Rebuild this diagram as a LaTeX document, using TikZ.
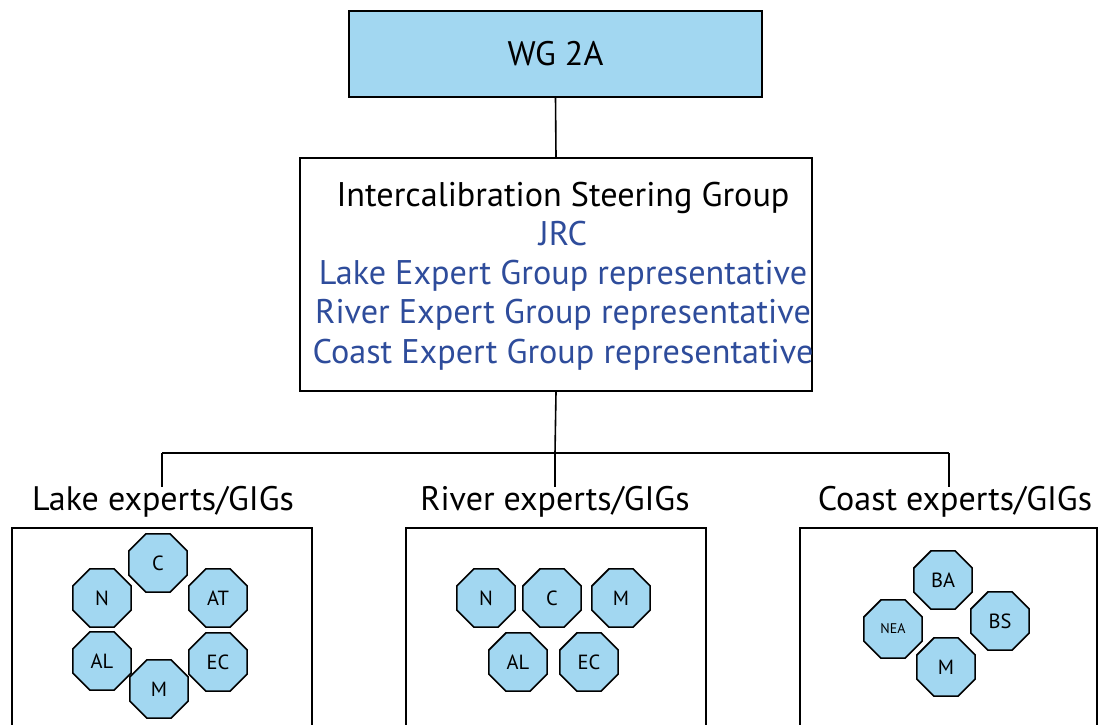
\documentclass[tikz,border=0pt]{standalone}
\usepackage{fontspec}
\setmainfont{PT Sans}
\usetikzlibrary{shapes.geometric}
\definecolor{boxblue}{HTML}{A2D7F1}
\definecolor{txtblue}{HTML}{2E4C9B}
\tikzset{
  frame/.style={draw=black, line width=1.5pt, rectangle, inner sep=0pt},
  oct/.style={regular polygon, regular polygon sides=8, draw=black, line width=1.6pt, fill=boxblue, minimum size=63pt, inner sep=0pt, font=\fontsize{20.5}{22}\selectfont},
  lbl/.style={inner sep=0pt, font=\fontsize{34}{36}\selectfont},
  conn/.style={draw=black, line width=1.6pt}
}
\begin{document}
\begin{tikzpicture}[x=1pt,y=-1pt]
\path[use as bounding box, clip] (0,0) rectangle (1099,724);
% top
\node[frame, fill=boxblue, minimum width=413pt, minimum height=86pt, font=\fontsize{34}{36}\selectfont] (wg) at (555.5,54) {WG 2A};
\node[frame, minimum width=512pt, minimum height=233pt] (isg) at (556,274.5) {};
\node[align=center, inner sep=0pt, font=\fontsize{34.2}{39.2}\selectfont] (isgtxt) at (563,276) {Intercalibration Steering Group\\
\textcolor{txtblue}{JRC}\\
\textcolor{txtblue}{Lake Expert Group representative}\\
\textcolor{txtblue}{River Expert Group representative}\\
\textcolor{txtblue}{Coast Expert Group representative}};
% labels
\node[lbl] (lakelab) at (163,502) {Lake experts/GIGs};
\node[lbl] (riverlab) at (555,502) {River experts/GIGs};
\node[lbl] (coastlab) at (955,502) {Coast experts/GIGs};
% group boxes
\node[frame, minimum width=300pt, minimum height=240pt, anchor=north] (lakebox) at (162,527) {};
\node[frame, minimum width=300pt, minimum height=240pt, anchor=north] (riverbox) at (556,527) {};
\node[frame, minimum width=297pt, minimum height=240pt, anchor=north] (coastbox) at (948.5,527) {};
% connectors
\coordinate (j) at (555,453);
\coordinate (jl) at (162,453);
\coordinate (jc) at (949,453);
\draw[conn] (wg.south) -- (isg.north);
\draw[conn] (isg.south) -- (j);
\draw[conn] (jl) -- (jc);
\draw[conn] (jl) -- (162,487);
\draw[conn] (j) -- (555,487);
\draw[conn] (jc) -- (949,487);
% lake octagons
\node[oct] (lC) at (158,563) {C};
\node[oct] (lN) at (102,598) {N};
\node[oct] (lAT) at (218,598) {AT};
\node[oct] (lAL) at (102,661) {AL};
\node[oct] (lEC) at (218,662) {EC};
\node[oct] (lM) at (159,689) {M};
% river octagons
\node[oct] (rN) at (486,598) {N};
\node[oct] (rC) at (552,598) {C};
\node[oct] (rM) at (621,598) {M};
\node[oct] (rAL) at (518,662) {AL};
\node[oct] (rEC) at (589,662) {EC};
% coast octagons
\node[oct] (cBA) at (943,580) {BA};
\node[oct, font=\fontsize{14}{15}\selectfont] (cNEA) at (893,629) {NEA};
\node[oct] (cBS) at (1000,621) {BS};
\node[oct] (cM) at (946,667) {M};
\end{tikzpicture}
\end{document}
